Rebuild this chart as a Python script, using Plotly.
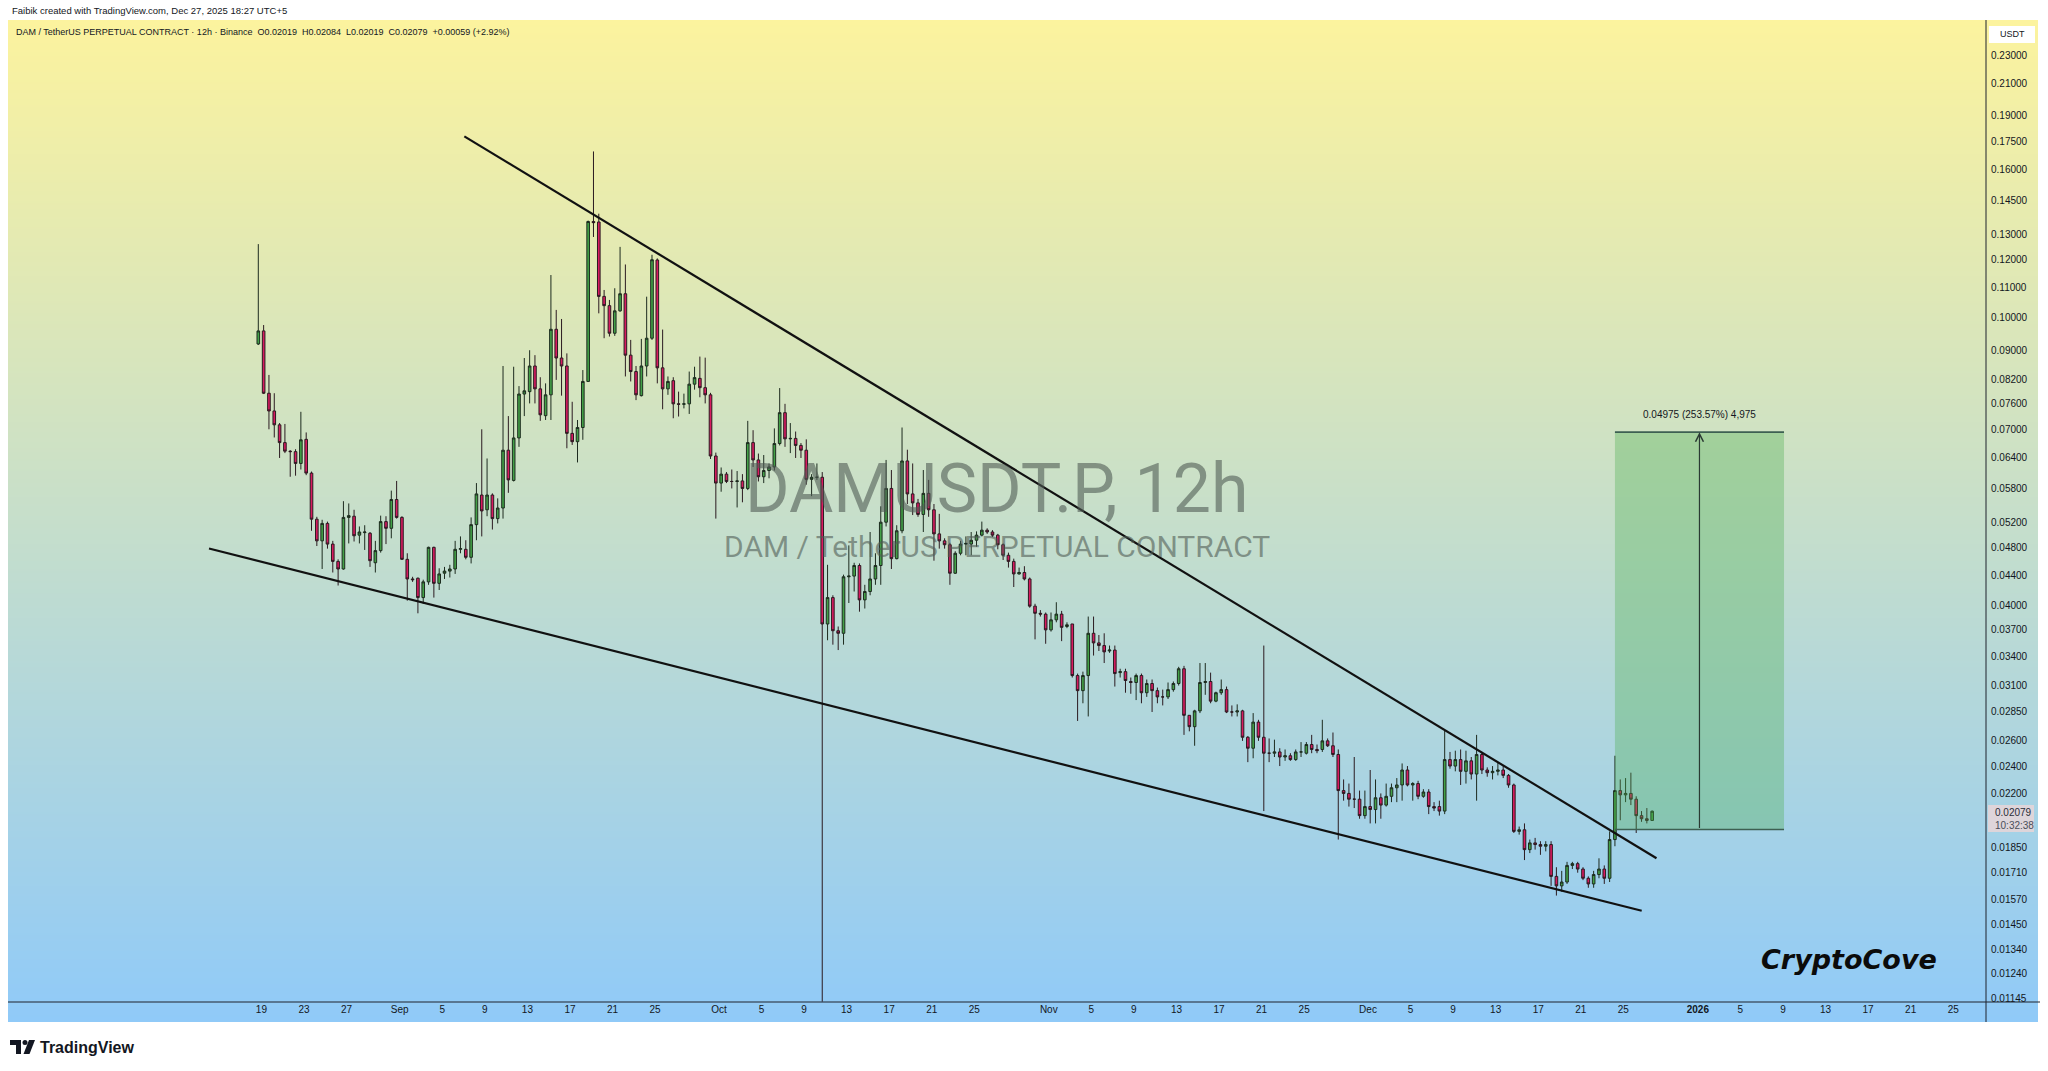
import math, zlib, struct, base64
import pandas as pd
import plotly.graph_objects as go

# ---------------- data ----------------
START = "2025-08-18 17:00"   # first 12h candle (UTC+5)
PERIOD = "12h"

OPEN = [0.0918,0.0957,0.0785,0.0742,0.0710,0.0671,0.0653,0.0652,0.0628,0.0678,
        0.0609,0.0526,0.0491,0.0519,0.0486,0.0460,0.0449,0.0529,0.0531,0.0500,
        0.0504,0.0503,0.0458,0.0476,0.0522,0.0511,0.0560,0.0529,0.0463,0.0435,
        0.0436,0.0410,0.0431,0.0481,0.0429,0.0443,0.0446,0.0449,0.0478,0.0478,
        0.0466,0.0517,0.0568,0.0542,0.0568,0.0527,0.0545,0.0655,0.0595,0.0681,
        0.0783,0.0789,0.0856,0.0796,0.0731,0.0781,0.0962,0.0878,0.0856,0.0691,
        0.0673,0.0704,0.0815,0.1355,0.1353,0.1068,0.1037,0.0950,0.1020,0.1077,
        0.0886,0.0841,0.0779,0.0856,0.0935,0.1199,0.0851,0.0796,0.0817,0.0759,
        0.0758,0.0759,0.0808,0.0823,0.0799,0.0781,0.0643,0.0590,0.0607,0.0593,
        0.0593,0.0594,0.0580,0.0671,0.0635,0.0602,0.0614,0.0621,0.0669,0.0738,
        0.0679,0.0680,0.0665,0.0655,0.0597,0.0601,0.0601,0.0377,0.0410,0.0369,
        0.0366,0.0438,0.0439,0.0454,0.0407,0.0418,0.0435,0.0454,0.0521,0.0580,
        0.0464,0.0507,0.0633,0.0570,0.0554,0.0534,0.0571,0.0542,0.0502,0.0491,
        0.0485,0.0443,0.0472,0.0486,0.0486,0.0492,0.0500,0.0508,0.0505,0.0500,
        0.0485,0.0469,0.0460,0.0442,0.0444,0.0435,0.0399,0.0390,0.0389,0.0370,
        0.0382,0.0389,0.0374,0.0377,0.0320,0.0305,0.0320,0.0366,0.0355,0.0352,
        0.0346,0.0347,0.0323,0.0324,0.0314,0.0313,0.0320,0.0303,0.0312,0.0305,
        0.0299,0.0299,0.0306,0.0312,0.0327,0.0282,0.0272,0.0286,0.0313,0.0314,
        0.0295,0.0303,0.0306,0.0285,0.0285,0.0286,0.0263,0.0254,0.0276,0.0263,
        0.0250,0.0250,0.0251,0.0247,0.0248,0.0245,0.0251,0.0250,0.0257,0.0253,
        0.0253,0.0260,0.0256,0.0249,0.0222,0.0220,0.0216,0.0216,0.0205,0.0211,
        0.0209,0.0217,0.0212,0.0218,0.0224,0.0226,0.0237,0.0226,0.0227,0.0218,
        0.0221,0.0211,0.0211,0.0208,0.0245,0.0240,0.0245,0.0236,0.0244,0.0234,
        0.0249,0.0237,0.0235,0.0236,0.0237,0.0233,0.0226,0.0195,0.0196,0.0184,
        0.0188,0.0187,0.0186,0.0187,0.0169,0.0164,0.0166,0.0175,0.0176,0.0173,
        0.0168,0.0165,0.0170,0.0173,0.0168,0.0190,0.0222,0.0219,0.0220,0.0216,
        0.0205,0.0203,0.02019]
HIGH = [0.1261,0.0975,0.0832,0.0785,0.0714,0.0712,0.0655,0.0657,0.0740,0.0693,
        0.0612,0.0530,0.0525,0.0522,0.0491,0.0463,0.0557,0.0553,0.0542,0.0514,
        0.0516,0.0505,0.0491,0.0532,0.0531,0.0576,0.0594,0.0531,0.0472,0.0438,
        0.0437,0.0434,0.0482,0.0482,0.0450,0.0452,0.0455,0.0491,0.0498,0.0492,
        0.0529,0.0590,0.0700,0.0638,0.0571,0.0562,0.0856,0.0730,0.0854,0.0803,
        0.0878,0.0900,0.0886,0.0826,0.0810,0.1143,0.1023,0.0994,0.0891,0.0764,
        0.0721,0.0845,0.1359,0.1693,0.1389,0.1090,0.1056,0.1096,0.1250,0.1182,
        0.0930,0.0856,0.0933,0.1067,0.1219,0.1205,0.0961,0.0828,0.0826,0.0789,
        0.0784,0.0841,0.0854,0.0882,0.0879,0.0786,0.0650,0.0620,0.0611,0.0616,
        0.0613,0.0607,0.0719,0.0698,0.0648,0.0645,0.0628,0.0702,0.0798,0.0759,
        0.0714,0.0695,0.0670,0.0678,0.0607,0.0628,0.0611,0.0455,0.0413,0.0374,
        0.0441,0.0484,0.0458,0.0457,0.0427,0.0505,0.0472,0.0548,0.0635,0.0615,
        0.0516,0.0704,0.0656,0.0628,0.0561,0.0615,0.0596,0.0552,0.0535,0.0495,
        0.0488,0.0475,0.0491,0.0498,0.0505,0.0506,0.0522,0.0511,0.0508,0.0502,
        0.0487,0.0473,0.0464,0.0451,0.0453,0.0437,0.0402,0.0394,0.0391,0.0391,
        0.0404,0.0393,0.0379,0.0377,0.0322,0.0324,0.0386,0.0386,0.0364,0.0366,
        0.0352,0.0352,0.0327,0.0327,0.0318,0.0322,0.0322,0.0316,0.0316,0.0308,
        0.0306,0.0313,0.0314,0.0329,0.0330,0.0282,0.0287,0.0333,0.0333,0.0323,
        0.0304,0.0316,0.0309,0.0291,0.0292,0.0287,0.0264,0.0284,0.0278,0.0352,
        0.0262,0.0261,0.0254,0.0253,0.0250,0.0253,0.0259,0.0259,0.0265,0.0257,
        0.0278,0.0262,0.0267,0.0253,0.0230,0.0227,0.0247,0.0222,0.0222,0.0237,
        0.0230,0.0220,0.0227,0.0227,0.0231,0.0242,0.0240,0.0228,0.0229,0.0223,
        0.0223,0.0214,0.0215,0.0269,0.0251,0.0252,0.0253,0.0252,0.0247,0.0265,
        0.0251,0.0239,0.0240,0.0243,0.0240,0.0234,0.0227,0.0198,0.0200,0.0190,
        0.0191,0.0189,0.0189,0.0189,0.0174,0.0172,0.0177,0.0177,0.0177,0.0174,
        0.0169,0.0172,0.0179,0.0175,0.0195,0.0248,0.0230,0.0231,0.0235,0.0218,
        0.0208,0.0210,0.02084]
LOW = [0.0915,0.0783,0.0700,0.0682,0.0639,0.0649,0.0602,0.0604,0.0616,0.0605,
       0.0507,0.0483,0.0449,0.0479,0.0444,0.0426,0.0448,0.0487,0.0490,0.0487,
       0.0477,0.0452,0.0444,0.0473,0.0486,0.0495,0.0527,0.0462,0.0406,0.0431,
       0.0390,0.0402,0.0427,0.0410,0.0420,0.0435,0.0437,0.0442,0.0472,0.0463,
       0.0457,0.0492,0.0498,0.0531,0.0509,0.0519,0.0527,0.0572,0.0593,0.0662,
       0.0730,0.0760,0.0760,0.0719,0.0721,0.0721,0.0819,0.0779,0.0659,0.0666,
       0.0630,0.0677,0.0815,0.1290,0.1012,0.0935,0.0940,0.0942,0.1017,0.0828,
       0.0815,0.0768,0.0777,0.0828,0.0930,0.0810,0.0746,0.0781,0.0725,0.0729,
       0.0748,0.0735,0.0794,0.0775,0.0760,0.0637,0.0527,0.0574,0.0590,0.0580,
       0.0546,0.0555,0.0577,0.0621,0.0593,0.0590,0.0599,0.0614,0.0665,0.0662,
       0.0649,0.0639,0.0639,0.0587,0.0566,0.0596,0.01135,0.0358,0.0353,0.0347,
       0.0353,0.0403,0.0418,0.0392,0.0396,0.0413,0.0427,0.0427,0.0514,0.0449,
       0.0463,0.0503,0.0552,0.0533,0.0530,0.0505,0.0530,0.0461,0.0479,0.0479,
       0.0427,0.0442,0.0469,0.0469,0.0469,0.0482,0.0498,0.0502,0.0497,0.0478,
       0.0462,0.0451,0.0424,0.0441,0.0433,0.0397,0.0359,0.0386,0.0354,0.0368,
       0.0379,0.0357,0.0372,0.0318,0.0277,0.0293,0.0281,0.0341,0.0346,0.0333,
       0.0344,0.0309,0.0318,0.0303,0.0302,0.0296,0.0293,0.0299,0.0285,0.0293,
       0.0291,0.0297,0.0304,0.0310,0.0265,0.0268,0.0256,0.0284,0.0301,0.0293,
       0.0294,0.0301,0.0284,0.0281,0.0281,0.0260,0.0243,0.0246,0.0260,0.0208,
       0.0243,0.0247,0.0240,0.0244,0.0244,0.0244,0.0247,0.0249,0.0250,0.0250,
       0.0251,0.0255,0.0247,0.0190,0.0215,0.0211,0.0210,0.0203,0.0203,0.0200,
       0.0200,0.0203,0.0211,0.0214,0.0214,0.0215,0.0225,0.0215,0.0216,0.0217,
       0.0206,0.0208,0.0205,0.0206,0.0238,0.0236,0.0226,0.0227,0.0230,0.0215,
       0.0234,0.0232,0.0230,0.0233,0.0231,0.0224,0.0194,0.0193,0.0178,0.0182,
       0.0184,0.0181,0.0183,0.0164,0.0159,0.0161,0.0165,0.0173,0.0171,0.0167,
       0.0163,0.0163,0.0168,0.0165,0.0166,0.0186,0.0202,0.0214,0.0212,0.0194,
       0.0201,0.0200,0.02019]
CLOSE = [0.0957,0.0785,0.0742,0.0710,0.0671,0.0653,0.0652,0.0628,0.0677,0.0609,
         0.0526,0.0491,0.0519,0.0486,0.0460,0.0449,0.0529,0.0532,0.0499,0.0505,
         0.0505,0.0461,0.0476,0.0522,0.0511,0.0560,0.0529,0.0463,0.0435,0.0434,
         0.0410,0.0431,0.0481,0.0429,0.0442,0.0446,0.0449,0.0478,0.0479,0.0466,
         0.0517,0.0570,0.0540,0.0568,0.0527,0.0545,0.0655,0.0596,0.0681,0.0783,
         0.0791,0.0856,0.0796,0.0733,0.0781,0.0962,0.0878,0.0856,0.0691,0.0673,
         0.0704,0.0815,0.1355,0.1350,0.1068,0.1037,0.0950,0.1020,0.1077,0.0886,
         0.0841,0.0781,0.0856,0.0935,0.1200,0.0851,0.0796,0.0815,0.0759,0.0758,
         0.0759,0.0808,0.0825,0.0799,0.0781,0.0643,0.0590,0.0607,0.0593,0.0593,
         0.0594,0.0580,0.0671,0.0635,0.0602,0.0614,0.0621,0.0669,0.0738,0.0679,
         0.0680,0.0665,0.0655,0.0597,0.0601,0.0601,0.0377,0.0410,0.0369,0.0366,
         0.0438,0.0439,0.0454,0.0407,0.0418,0.0435,0.0454,0.0521,0.0580,0.0464,
         0.0507,0.0633,0.0570,0.0554,0.0534,0.0571,0.0542,0.0502,0.0491,0.0485,
         0.0443,0.0472,0.0486,0.0487,0.0492,0.0500,0.0508,0.0505,0.0500,0.0485,
         0.0469,0.0460,0.0442,0.0444,0.0435,0.0399,0.0390,0.0389,0.0370,0.0382,
         0.0389,0.0373,0.0376,0.0320,0.0305,0.0320,0.0366,0.0355,0.0352,0.0345,
         0.0347,0.0322,0.0324,0.0315,0.0313,0.0320,0.0303,0.0312,0.0305,0.0299,
         0.0299,0.0306,0.0312,0.0327,0.0282,0.0272,0.0286,0.0313,0.0314,0.0295,
         0.0303,0.0306,0.0285,0.0285,0.0286,0.0263,0.0254,0.0276,0.0263,0.0250,
         0.0250,0.0251,0.0247,0.0248,0.0245,0.0251,0.0251,0.0257,0.0253,0.0252,
         0.0260,0.0256,0.0249,0.0222,0.0220,0.0216,0.0216,0.0205,0.0211,0.0209,
         0.0217,0.0212,0.0218,0.0224,0.0226,0.0237,0.0226,0.0227,0.0218,0.0221,
         0.0211,0.0210,0.0208,0.0245,0.0240,0.0245,0.0236,0.0244,0.0234,0.0249,
         0.0237,0.0235,0.0236,0.0237,0.0233,0.0226,0.0195,0.0196,0.0184,0.0188,
         0.0187,0.0186,0.0187,0.0169,0.0164,0.0166,0.0175,0.0176,0.0173,0.0168,
         0.0165,0.0170,0.0173,0.0168,0.0190,0.0222,0.0219,0.0220,0.0216,0.0205,
         0.0203,0.02019,0.02079]

# falling-wedge trendlines (time, price)
UPPER_LINE_T = ["2025-09-07 01:42", "2025-12-28 02:48"]
UPPER_LINE_P = [0.1776, 0.01790]
LOWER_LINE_T = ["2025-08-14 01:48", "2025-12-26 17:24"]
LOWER_LINE_P = [0.04792, 0.01515]

# price-range measurement box
RANGE_T = ["2025-12-24 05:00", "2026-01-09 02:24"]
RANGE_P = [0.01962, 0.06937]
RANGE_LABEL = "0.04975 (253.57%) 4,975"

LAST_PRICE = "0.02079"
COUNTDOWN = "10:32:38"

Y_TICKS = [0.23, 0.21, 0.19, 0.175, 0.16, 0.145, 0.13, 0.12, 0.11, 0.10, 0.09,
           0.082, 0.076, 0.07, 0.064, 0.058, 0.052, 0.048, 0.044, 0.04, 0.037,
           0.034, 0.031, 0.0285, 0.026, 0.024, 0.022, 0.0185, 0.0171, 0.0157,
           0.0145, 0.0134, 0.0124, 0.01145]

X_TICK_DATES = ["2025-08-19", "2025-08-23", "2025-08-27", "2025-09-01", "2025-09-05",
                "2025-09-09", "2025-09-13", "2025-09-17", "2025-09-21", "2025-09-25",
                "2025-10-01", "2025-10-05", "2025-10-09", "2025-10-13", "2025-10-17",
                "2025-10-21", "2025-10-25", "2025-11-01", "2025-11-05", "2025-11-09",
                "2025-11-13", "2025-11-17", "2025-11-21", "2025-11-25", "2025-12-01",
                "2025-12-05", "2025-12-09", "2025-12-13", "2025-12-17", "2025-12-21",
                "2025-12-25", "2026-01-01", "2026-01-05", "2026-01-09", "2026-01-13",
                "2026-01-17", "2026-01-21", "2026-01-25"]
X_TICK_TEXT = ["19", "23", "27", "Sep", "5", "9", "13", "17", "21", "25",
               "Oct", "5", "9", "13", "17", "21", "25",
               "Nov", "5", "9", "13", "17", "21", "25",
               "Dec", "5", "9", "13", "17", "21", "25",
               "<b>2026</b>", "5", "9", "13", "17", "21", "25"]

X_RANGE = ["2025-07-26 04:24", "2026-01-28 02:00"]
Y_RANGE = [0.011337, 0.2571]

HEADER = "Faibik created with TradingView.com, Dec 27, 2025 18:27 UTC+5"
LEGEND = ("DAM / TetherUS PERPETUAL CONTRACT · 12h · Binance\u00a0\u00a0O0.02019\u00a0\u00a0H0.02084"
          "\u00a0\u00a0L0.02019\u00a0\u00a0C0.02079\u00a0\u00a0+0.00059 (+2.92%)")
WATERMARK_1 = "DAMUSDT.P, 12h"
WATERMARK_2 = "DAM / TetherUS PERPETUAL CONTRACT"
SIGNATURE = "CryptoCove"

# ---------------- layout helpers ----------------
W, H = 2048, 1071
PL, PR, PT, PB = 8, 1986, 20, 1002   # plot area in pixels


def px(X):
    return (X - PL) / (PR - PL)


def py(Y):
    return (PB - Y) / (PB - PT)


def gradient_png(top, bottom, h=512):
    raw = b""
    for r in range(h):
        t = r / (h - 1)
        c = bytes(round(a + (b - a) * t) for a, b in zip(top, bottom))
        raw += b"\x00" + c + c
    def chunk(tag, data):
        return (struct.pack(">I", len(data)) + tag + data +
                struct.pack(">I", zlib.crc32(tag + data) & 0xffffffff))
    ihdr = struct.pack(">IIBBBBB", 2, h, 8, 2, 0, 0, 0)
    png = (b"\x89PNG\r\n\x1a\n" + chunk(b"IHDR", ihdr) +
           chunk(b"IDAT", zlib.compress(raw)) + chunk(b"IEND", b""))
    return "data:image/png;base64," + base64.b64encode(png).decode()


dates = pd.date_range(START, periods=len(CLOSE), freq=PERIOD)

fig = go.Figure()

fig.add_trace(go.Candlestick(
    x=dates, open=OPEN, high=HIGH, low=LOW, close=CLOSE,
    increasing=dict(fillcolor="#43A047", line=dict(color="#1d2b1f", width=1)),
    decreasing=dict(fillcolor="#D81B60", line=dict(color="#2b1a20", width=1)),
    whiskerwidth=0, showlegend=False, hoverinfo="skip"))

# price range box (filled) and its top / bottom edges
fig.add_trace(go.Scatter(
    x=[RANGE_T[0], RANGE_T[1], RANGE_T[1], RANGE_T[0], RANGE_T[0]],
    y=[RANGE_P[0], RANGE_P[0], RANGE_P[1], RANGE_P[1], RANGE_P[0]],
    mode="lines", fill="toself", fillcolor="rgba(76,175,80,0.35)",
    line=dict(width=0, color="rgba(0,0,0,0)"), showlegend=False, hoverinfo="skip"))
for p in RANGE_P:
    fig.add_trace(go.Scatter(x=RANGE_T, y=[p, p], mode="lines",
                             line=dict(color="#3d5f52", width=1.6),
                             showlegend=False, hoverinfo="skip"))

for T, P in ((UPPER_LINE_T, UPPER_LINE_P), (LOWER_LINE_T, LOWER_LINE_P)):
    fig.add_trace(go.Scatter(x=T, y=P, mode="lines",
                             line=dict(color="#111111", width=2.2),
                             showlegend=False, hoverinfo="skip"))

mid_t = pd.Timestamp(RANGE_T[0]) + (pd.Timestamp(RANGE_T[1]) - pd.Timestamp(RANGE_T[0])) / 2
lo_log, hi_log = math.log10(RANGE_P[0]), math.log10(RANGE_P[1])

shapes = [
    # axis lines
    dict(type="line", xref="paper", yref="paper", x0=0, x1=px(2040), y0=0, y1=0,
         line=dict(color="#1e222d", width=1)),
    dict(type="line", xref="paper", yref="paper", x0=1, x1=1, y0=py(1022), y1=1,
         line=dict(color="#1e222d", width=1)),
    # USDT box
    dict(type="rect", xref="paper", yref="paper", x0=px(1989), x1=px(2035),
         y0=py(43), y1=py(26), fillcolor="white", line=dict(width=0)),
    # last price box
    dict(type="rect", xref="paper", yref="paper", x0=px(1988), x1=px(2034),
         y0=py(832), y1=py(805), fillcolor="#ded5da", line=dict(width=0)),
    # TradingView logo
    dict(type="path", xref="paper", yref="paper",
         path=(f"M{px(10)},{py(1040)} L{px(21)},{py(1040)} L{px(21)},{py(1054)} "
               f"L{px(16)},{py(1054)} L{px(16)},{py(1045)} L{px(10)},{py(1045)} Z"),
         fillcolor="#131722", line=dict(width=0)),
    dict(type="circle", xref="paper", yref="paper", x0=px(22.5), x1=px(27.5),
         y0=py(1045), y1=py(1040), fillcolor="#131722", line=dict(width=0)),
    dict(type="path", xref="paper", yref="paper",
         path=(f"M{px(29)},{py(1040)} L{px(35)},{py(1040)} L{px(29.5)},{py(1054)} "
               f"L{px(23.5)},{py(1054)} Z"),
         fillcolor="#131722", line=dict(width=0)),
]

FONT = "Liberation Sans, Arial, sans-serif"
WM_COLOR = "rgba(80,92,85,0.6)"
annotations = [
    dict(xref="paper", yref="paper", x=px(10), y=py(11), text=HEADER, showarrow=False,
         xanchor="left", yanchor="middle", font=dict(family=FONT, size=9.5, color="#131722")),
    dict(xref="paper", yref="paper", x=px(14), y=py(32), text=LEGEND, showarrow=False,
         xanchor="left", yanchor="middle", font=dict(family=FONT, size=9, color="#131722")),
    dict(xref="paper", yref="paper", x=px(996), y=py(489), text=WATERMARK_1, showarrow=False,
         xanchor="center", yanchor="middle",
         font=dict(family="Roboto", size=68, color=WM_COLOR)),
    dict(xref="paper", yref="paper", x=px(997), y=py(546), text=WATERMARK_2, showarrow=False,
         xanchor="center", yanchor="middle",
         font=dict(family="Roboto", size=30, color=WM_COLOR)),
    dict(xref="paper", yref="paper", x=px(1849), y=py(959), text=f"<b><i>{SIGNATURE}</i></b>",
         showarrow=False, xanchor="center", yanchor="middle",
         font=dict(family="DejaVu Sans", size=27, color="#0b0b0b")),
    dict(xref="x", yref="y", x=mid_t, y=hi_log, text=RANGE_LABEL, showarrow=False,
         yshift=18, xanchor="center", yanchor="middle",
         font=dict(family=FONT, size=10, color="#131722")),
    dict(xref="x", yref="y", x=mid_t, y=hi_log, axref="x", ayref="y", ax=mid_t, ay=lo_log,
         text="", showarrow=True, arrowhead=5, arrowsize=1.3, arrowwidth=1.2,
         arrowcolor="#2a3a33", standoff=0),
    dict(xref="paper", yref="paper", x=px(2012), y=py(34.5), text="USDT", showarrow=False,
         xanchor="center", yanchor="middle", font=dict(family=FONT, size=9, color="#131722")),
    dict(xref="paper", yref="paper", x=px(1993), y=py(812), text=LAST_PRICE, showarrow=False,
         xanchor="left", yanchor="middle", font=dict(family=FONT, size=10, color="#2a2e39")),
    dict(xref="paper", yref="paper", x=px(1993), y=py(825), text=COUNTDOWN, showarrow=False,
         xanchor="left", yanchor="middle", font=dict(family=FONT, size=10, color="#4a4e59")),
    dict(xref="paper", yref="paper", x=px(38), y=py(1047), text="<b>TradingView</b>",
         showarrow=False, xanchor="left", yanchor="middle",
         font=dict(family=FONT, size=16, color="#131722")),
]

fig.update_layout(
    width=W, height=H, autosize=False,
    margin=dict(l=PL, r=W - PR, t=PT, b=H - PB, pad=0),
    paper_bgcolor="white", plot_bgcolor="rgba(0,0,0,0)",
    showlegend=False, hovermode=False,
    images=[dict(source=gradient_png((252, 243, 158), (144, 202, 248)),
                 xref="paper", yref="paper", x=0, y=1, sizex=px(2038), sizey=1 - py(1022),
                 xanchor="left", yanchor="top", sizing="stretch", layer="below")],
    shapes=shapes, annotations=annotations,
    xaxis=dict(type="date", range=X_RANGE, rangeslider=dict(visible=False),
               tickvals=X_TICK_DATES, ticktext=X_TICK_TEXT, ticks="",
               showgrid=False, zeroline=False, showline=False, automargin=False,
               tickfont=dict(family=FONT, size=10, color="#131722"),
               ticklabelstandoff=0),
    yaxis=dict(type="log", side="right", range=[math.log10(v) for v in Y_RANGE],
               tickvals=Y_TICKS, ticktext=[f"{v:.5f}" for v in Y_TICKS], ticks="",
               showgrid=False, zeroline=False, showline=False, automargin=False,
               tickfont=dict(family=FONT, size=10, color="#131722"),
               ticklabelstandoff=4),
)

fig.write_html("out.html", config={"displayModeBar": False},
               post_script="document.body.style.margin='0px';document.body.style.overflow='hidden';")
